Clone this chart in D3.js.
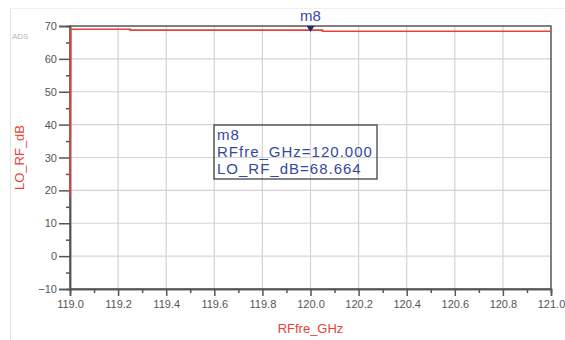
<!DOCTYPE html>
<html>
<head>
<meta charset="utf-8">
<script src="https://cdn.jsdelivr.net/npm/d3@7"></script>
<style>
  body { margin: 0; background: #fff; }
  text { font-family: "Liberation Sans", Arial, sans-serif; }
</style>
</head>
<body>
<div id="chart-area"></div>
<script>
// Data
const freqGHz = [119.0, 119.003, 119.25, 119.25, 120.05, 120.05, 121.0]
const loRfDb  = [18.0, 69.0, 69.0, 68.75, 68.75, 68.4, 68.4]
const xTicks = [119.0, 119.2, 119.4, 119.6, 119.8, 120.0, 120.2, 120.4, 120.6, 120.8, 121.0]
const yTicks = [-10, 0, 10, 20, 30, 40, 50, 60, 70]
const markerName = "m8"
const markerX = 120.0
const markerY = 68.664

const W = 565, H = 340
const MARGIN = { LEFT: 70, RIGHT: 14, TOP: 26, BOTTOM: 51 }
const WIDTH = W - MARGIN.LEFT - MARGIN.RIGHT
const HEIGHT = H - MARGIN.TOP - MARGIN.BOTTOM

const svg = d3.select("#chart-area").append("svg")
  .attr("width", W).attr("height", H)

// faint frame of the window
svg.append("line").attr("x1", 10.5).attr("x2", 10.5).attr("y1", 8).attr("y2", H)
  .attr("stroke", "#e4e4e4")
svg.append("line").attr("x1", 10).attr("x2", W).attr("y1", 8.5).attr("y2", 8.5)
  .attr("stroke", "#f0f0f0")

svg.append("text").attr("x", 12).attr("y", 39).text("ADS")
  .style("font-size", 8).style("fill", "#b8b8b8")

const g = svg.append("g").attr("transform", `translate(${MARGIN.LEFT},${MARGIN.TOP})`)

const x = d3.scaleLinear().domain([119.0, 121.0]).range([0, WIDTH])
const y = d3.scaleLinear().domain([-10, 70]).range([HEIGHT, 0])

// grid
g.selectAll(".gx").data(xTicks.slice(1, -1)).join("line")
  .attr("x1", d => x(d)).attr("x2", d => x(d)).attr("y1", 0).attr("y2", HEIGHT)
  .attr("stroke", "#d4d4d4").attr("stroke-width", 1.2)
g.selectAll(".gy").data(yTicks.slice(1, -1)).join("line")
  .attr("y1", d => y(d)).attr("y2", d => y(d)).attr("x1", 0).attr("x2", WIDTH)
  .attr("stroke", "#d4d4d4").attr("stroke-width", 1.2)

// frame
g.append("rect").attr("width", WIDTH).attr("height", HEIGHT)
  .attr("fill", "none").attr("stroke", "#555").attr("stroke-width", 1.5)

// axes
const xAxis = g.append("g").attr("transform", `translate(0,${HEIGHT})`)
  .call(d3.axisBottom(x).tickValues(xTicks).tickFormat(d3.format(".1f")).tickSize(7).tickPadding(4))
const xMinor = g.append("g").attr("transform", `translate(0,${HEIGHT})`)
  .call(d3.axisBottom(x).tickValues(xTicks.slice(0, -1).map(d => d + 0.1)).tickFormat("").tickSize(4))
const yAxis = g.append("g")
  .call(d3.axisLeft(y).tickValues(yTicks).tickSize(11).tickPadding(2))
const yMinor = g.append("g")
  .call(d3.axisLeft(y).tickValues(yTicks.slice(0, -1).map(d => d + 5)).tickFormat("").tickSize(4))

;[xAxis, xMinor, yAxis, yMinor].forEach(a => {
  a.select(".domain").attr("stroke", "#555").attr("stroke-width", 1.5)
  a.selectAll(".tick line").attr("stroke", "#555").attr("stroke-width", 1.5)
  a.selectAll(".tick text").style("font-size", 11).style("fill", "#555")
})

// trace
const line = d3.line().x((d, i) => x(freqGHz[i])).y(d => y(d))
g.append("path").datum(loRfDb)
  .attr("d", line).attr("fill", "none")
  .attr("stroke", "#e8403a").attr("stroke-width", 1.6)

// axis titles
svg.append("text")
  .attr("transform", `translate(24,${MARGIN.TOP + HEIGHT / 2}) rotate(-90)`)
  .attr("text-anchor", "middle").text("LO_RF_dB")
  .style("font-size", 13).style("fill", "#e8403a")
svg.append("text")
  .attr("x", MARGIN.LEFT + x(120.0)).attr("y", 333)
  .attr("text-anchor", "middle").text("RFfre_GHz")
  .style("font-size", 13).style("fill", "#e8403a")

// marker
const mx = MARGIN.LEFT + x(markerX)
svg.append("path")
  .attr("d", `M${mx - 4},${MARGIN.TOP} L${mx + 4},${MARGIN.TOP} L${mx},${MARGIN.TOP + 6} Z`)
  .attr("fill", "#1f2f6e")
svg.append("text").attr("x", mx).attr("y", 21).attr("text-anchor", "middle")
  .text(markerName).style("font-size", 15).style("fill", "#3548a0")

// marker readout box
const box = svg.append("g").attr("transform", "translate(214,125)")
box.append("rect").attr("width", 163).attr("height", 54)
  .attr("fill", "none").attr("stroke", "#444").attr("stroke-width", 1.3)
const lines = [markerName, "RFfre_GHz=" + markerX.toFixed(3), "LO_RF_dB=" + markerY.toFixed(3)]
box.selectAll(".ro").data(lines).join("text")
  .attr("x", 3).attr("y", (d, i) => 15 + i * 17)
  .text(d => d)
  .style("font-size", 15).style("letter-spacing", "1px").style("fill", "#3548a0")
</script>
</body>
</html>
